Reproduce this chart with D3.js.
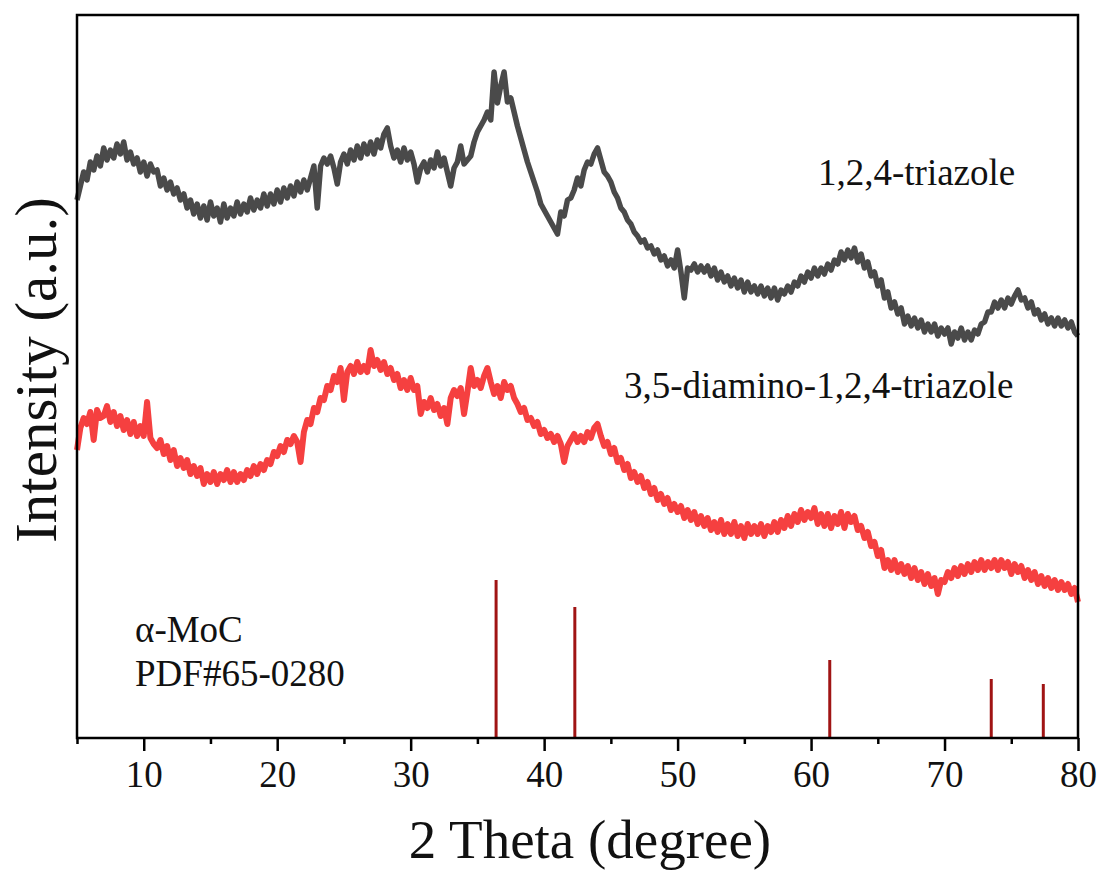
<!DOCTYPE html>
<html>
<head>
<meta charset="utf-8">
<script src="https://cdn.jsdelivr.net/npm/d3@7"></script>
<style>
  body { margin: 0; background: #fff; }
  text { font-family: "Liberation Serif", "Times New Roman", serif; fill: #111; }
</style>
</head>
<body>
<div id="chart"></div>
<script>
// 2θ grid: 5 → 80 in 0.25° steps
const thetaStart = 5, thetaStep = 0.25

// 1,2,4-triazole (arbitrary intensity)
const triazole = [
  538, 552, 566, 558, 576, 568, 582, 572, 590, 578, 588, 580, 594, 584, 596, 578,
  586, 574, 580, 566, 576, 562, 574, 566, 568, 552, 560, 548, 556, 544, 550, 538,
  544, 530, 538, 524, 534, 520, 532, 518, 536, 522, 530, 516, 534, 520, 530, 522,
  536, 524, 534, 526, 540, 528, 538, 530, 544, 532, 544, 534, 548, 536, 550, 540,
  552, 542, 556, 546, 558, 548, 560, 572, 530, 572, 580, 574, 582, 570, 554, 576,
  584, 574, 588, 578, 592, 580, 594, 584, 596, 584, 598, 590, 604, 610, 592, 580,
  588, 576, 590, 578, 586, 574, 556, 570, 576, 566, 578, 570, 586, 572, 580, 566,
  552, 570, 576, 592, 574, 578, 582, 596, 606, 612, 618, 626, 618, 666, 635, 652,
  666, 636, 640, 626, 612, 600, 588, 576, 566, 556, 546, 534, 528, 522, 516, 510,
  504, 526, 522, 538, 540, 548, 560, 552, 568, 576, 574, 584, 590, 578, 566, 562,
  556, 546, 540, 530, 526, 518, 514, 506, 502, 496, 498, 490, 492, 484, 488, 478,
  482, 472, 478, 470, 488, 466, 440, 470, 468, 474, 466, 472, 466, 472, 462, 470,
  458, 466, 456, 462, 452, 460, 450, 458, 446, 456, 446, 452, 444, 452, 442, 450,
  440, 450, 438, 448, 444, 452, 446, 456, 452, 462, 456, 466, 460, 470, 462, 470,
  464, 474, 468, 478, 474, 486, 478, 488, 480, 490, 476, 484, 470, 476, 462, 466,
  452, 458, 440, 446, 430, 436, 424, 430, 414, 422, 412, 420, 410, 418, 406, 414,
  406, 414, 402, 410, 404, 410, 394, 406, 400, 410, 398, 406, 398, 408, 404, 414,
  416, 426, 426, 436, 430, 438, 430, 440, 434, 442, 448, 438, 440, 430, 436, 424,
  428, 418, 424, 414, 420, 412, 420, 412, 418, 410, 416, 406, 402
]

// 3,5-diamino-1,2,4-triazole
const diaminoTriazole = [
  288, 310, 320, 314, 326, 298, 328, 320, 322, 332, 316, 326, 312, 322, 308, 318,
  304, 316, 302, 312, 302, 336, 300, 294, 290, 298, 284, 292, 278, 288, 272, 280,
  270, 278, 264, 272, 262, 270, 254, 264, 256, 266, 254, 264, 258, 268, 256, 266,
  256, 264, 258, 268, 262, 272, 264, 274, 268, 278, 274, 286, 282, 292, 286, 298,
  294, 302, 296, 276, 306, 318, 314, 330, 326, 340, 338, 352, 348, 362, 356, 370,
  338, 366, 372, 364, 376, 366, 372, 366, 388, 372, 378, 368, 376, 364, 370, 358,
  364, 350, 358, 348, 360, 348, 352, 324, 336, 330, 340, 328, 334, 322, 330, 314,
  340, 348, 342, 350, 324, 346, 370, 352, 358, 350, 362, 370, 356, 344, 352, 340,
  356, 348, 352, 340, 334, 326, 330, 318, 320, 312, 316, 304, 308, 300, 304, 296,
  302, 294, 276, 292, 298, 304, 296, 302, 296, 306, 300, 310, 314, 302, 292, 296,
  284, 290, 276, 280, 268, 274, 260, 266, 256, 262, 250, 256, 244, 250, 238, 244,
  234, 240, 228, 234, 226, 232, 220, 228, 218, 226, 214, 222, 212, 220, 208, 216,
  206, 218, 204, 214, 204, 216, 202, 212, 200, 214, 204, 212, 204, 214, 202, 212,
  206, 216, 206, 218, 210, 222, 212, 224, 216, 228, 218, 226, 220, 230, 214, 224,
  212, 224, 210, 222, 214, 226, 210, 224, 216, 222, 208, 212, 200, 206, 192, 196,
  182, 188, 170, 178, 168, 178, 166, 174, 164, 172, 160, 170, 158, 166, 154, 164,
  152, 160, 144, 158, 156, 166, 160, 170, 162, 172, 164, 174, 166, 176, 168, 178,
  168, 176, 170, 178, 168, 178, 170, 176, 164, 174, 166, 172, 160, 168, 158, 166,
  154, 162, 152, 160, 150, 158, 148, 156, 148, 154, 144, 150, 136
]

// α-MoC reference, PDF#65-0280
const refTheta = [36.4, 42.3, 61.4, 73.5, 77.4]
const refHeight = [158, 131, 78, 59, 54]

const majorTicks = [10, 20, 30, 40, 50, 60, 70, 80]
const minorTicks = [5, 15, 25, 35, 45, 55, 65, 75]

const W = 1107, H = 872
const plot = { left: 77, right: 1078, top: 15, bottom: 738 }

const svg = d3.select("#chart")
  .append("svg")
  .attr("width", W)
  .attr("height", H)

svg.append("rect").attr("width", W).attr("height", H).attr("fill", "#fff")

const x = d3.scaleLinear().domain([5, 80]).range([plot.left, plot.right])
const y = d3.scaleLinear().domain([0, 723]).range([plot.bottom, plot.top])

const toPts = arr => arr.map((v, i) => ({ t: thetaStart + i * thetaStep, v: v }))

const line = d3.line()
  .x(d => x(d.t))
  .y(d => y(d.v))

svg.append("path")
  .datum(toPts(triazole))
  .attr("fill", "none")
  .attr("stroke", "#4a4a4a")
  .attr("stroke-width", 5.5)
  .attr("stroke-linejoin", "round")
  .attr("d", line)

svg.append("path")
  .datum(toPts(diaminoTriazole))
  .attr("fill", "none")
  .attr("stroke", "#f54040")
  .attr("stroke-width", 6)
  .attr("stroke-linejoin", "round")
  .attr("d", line)

// reference sticks
svg.selectAll("line.ref")
  .data(refTheta.map((t, i) => ({ t: t, h: refHeight[i] })))
  .join("line")
  .attr("class", "ref")
  .attr("x1", d => x(d.t))
  .attr("x2", d => x(d.t))
  .attr("y1", y(0))
  .attr("y2", d => y(d.h))
  .attr("stroke", "#a01414")
  .attr("stroke-width", 3)

// frame
svg.append("rect")
  .attr("x", plot.left)
  .attr("y", plot.top)
  .attr("width", plot.right - plot.left)
  .attr("height", plot.bottom - plot.top)
  .attr("fill", "none")
  .attr("stroke", "#000")
  .attr("stroke-width", 2.5)

// x axis, major + minor ticks
const gx = svg.append("g")
  .attr("transform", `translate(0,${plot.bottom})`)
  .call(d3.axisBottom(x).tickValues(majorTicks).tickSize(13).tickSizeOuter(0).tickPadding(10))
gx.select(".domain").remove()
gx.selectAll(".tick line").attr("stroke", "#000").attr("stroke-width", 2.5)
gx.selectAll(".tick text")
  .attr("font-size", 37)
  .attr("font-family", "Liberation Serif, Times New Roman, serif")
  .attr("fill", "#111")

const gxm = svg.append("g")
  .attr("transform", `translate(0,${plot.bottom})`)
  .call(d3.axisBottom(x).tickValues(minorTicks).tickSize(6).tickSizeOuter(0).tickFormat(""))
gxm.select(".domain").remove()
gxm.selectAll(".tick line").attr("stroke", "#000").attr("stroke-width", 2.5)

// axis titles
svg.append("text")
  .attr("x", 590)
  .attr("y", 858)
  .attr("text-anchor", "middle")
  .attr("font-size", 55)
  .text("2 Theta (degree)")

svg.append("text")
  .attr("transform", `translate(56,370) rotate(-90)`)
  .attr("text-anchor", "middle")
  .attr("font-size", 59)
  .text("Intensity (a.u.)")

// curve labels
svg.append("text").attr("x", 818).attr("y", 185).attr("font-size", 37).text("1,2,4-triazole")
svg.append("text").attr("x", 624).attr("y", 398).attr("font-size", 37).text("3,5-diamino-1,2,4-triazole")
svg.append("text").attr("x", 135).attr("y", 642).attr("font-size", 37).text("α-MoC")
svg.append("text").attr("x", 135).attr("y", 686).attr("font-size", 37).text("PDF#65-0280")
</script>
</body>
</html>
